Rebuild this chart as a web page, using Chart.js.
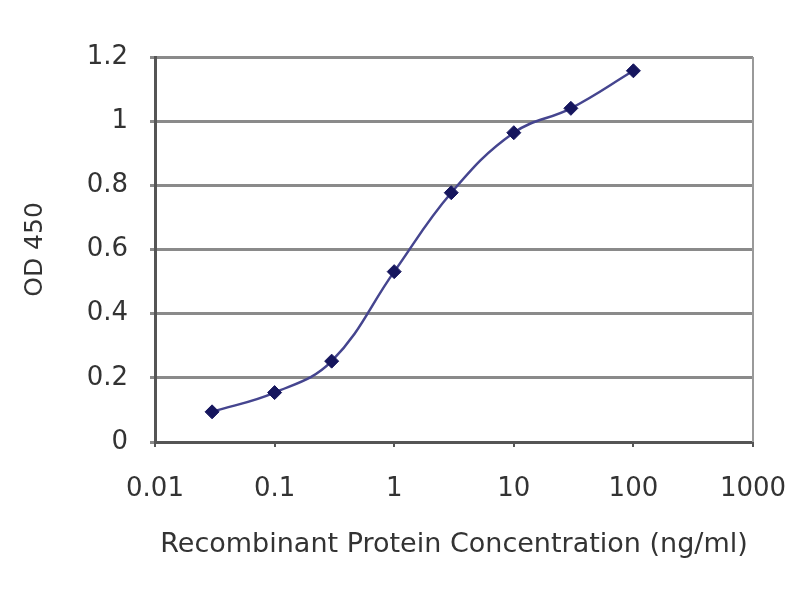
<!DOCTYPE html>
<html>
<head>
<meta charset="utf-8">
<script src="https://cdn.jsdelivr.net/npm/chart.js@4"></script>
<style>
  html, body { margin: 0; padding: 0; background: #ffffff; }
  #wrap { width: 800px; height: 600px; }
</style>
</head>
<body>
<div id="wrap"><canvas id="c" width="800" height="600"></canvas></div>
<script>
const concentrations = [0.03, 0.1, 0.3, 1, 3, 10, 30, 100];
const odValues = [0.094, 0.154, 0.252, 0.531, 0.777, 0.964, 1.040, 1.157];
const xTickValues = [0.01, 0.1, 1, 10, 100, 1000];
const xTickLabels = ["0.01", "0.1", "1", "10", "100", "1000"];
const yTickLabels = ["0", "0.2", "0.4", "0.6", "0.8", "1", "1.2"];
const xTitle = "Recombinant Protein Concentration (ng/ml)";
const yTitle = "OD 450";

const FONT = "'DejaVu Sans', 'Liberation Sans', sans-serif";
const TEXT = "#333333";

const rightBorder = {
  id: 'rightBorder',
  afterDraw(chart) {
    const {ctx, chartArea: a} = chart;
    ctx.save();
    ctx.strokeStyle = '#9a9a9a';
    ctx.lineWidth = 2;
    ctx.beginPath();
    ctx.moveTo(a.right, a.top);
    ctx.lineTo(a.right, a.bottom);
    ctx.stroke();
    ctx.restore();
  }
};

new Chart(document.getElementById('c'), {
  type: 'line',
  data: {
    datasets: [{
      data: concentrations.map((x, i) => ({x: x, y: odValues[i]})),
      borderColor: '#45458f',
      borderWidth: 2.5,
      tension: 0.4,
      fill: false,
      pointStyle: 'rectRot',
      pointRadius: 7,
      pointBackgroundColor: '#16165e',
      pointBorderColor: '#16165e',
      pointBorderWidth: 1
    }]
  },
  options: {
    responsive: false,
    animation: false,
    events: [],
    layout: { padding: { top: 57, right: 47, left: 0, bottom: 0 } },
    plugins: { legend: { display: false }, tooltip: { enabled: false } },
    scales: {
      x: {
        type: 'logarithmic',
        min: 0.01,
        max: 1000,
        afterBuildTicks(scale) {
          scale.ticks = xTickValues.map(v => ({value: v}));
        },
        afterFit(scale) {
          scale.height = 158;
          scale.paddingLeft = 0;
          scale.paddingRight = 0;
        },
        grid: { display: true, drawOnChartArea: false, drawTicks: true, tickLength: 5, color: '#555555', lineWidth: 2 },
        border: { display: true, color: '#555555', width: 3 },
        ticks: {
          autoSkip: false,
          maxRotation: 0,
          padding: 27,
          color: TEXT,
          font: { family: FONT, size: 26 },
          callback: function(value, index) { return xTickLabels[index]; }
        },
        title: {
          display: true,
          text: xTitle,
          color: TEXT,
          font: { family: FONT, size: 27 },
          padding: { top: 0, bottom: 39 }
        }
      },
      y: {
        min: 0,
        max: 1.2,
        afterFit(scale) {
          scale.width = 155;
          scale.paddingTop = 0;
          scale.paddingBottom = 0;
        },
        ticks: {
          stepSize: 0.2,
          padding: 22,
          color: TEXT,
          font: { family: FONT, size: 26 },
          callback: function(value, index) { return yTickLabels[index]; }
        },
        grid: { color: '#8a8a8a', lineWidth: 3, drawTicks: true, tickLength: 5 },
        border: { display: true, color: '#555555', width: 3 },
        title: {
          display: true,
          text: yTitle,
          color: TEXT,
          font: { family: FONT, size: 25 },
          padding: { top: 20, bottom: 0 }
        }
      }
    }
  },
  plugins: [rightBorder]
});
</script>
</body>
</html>
